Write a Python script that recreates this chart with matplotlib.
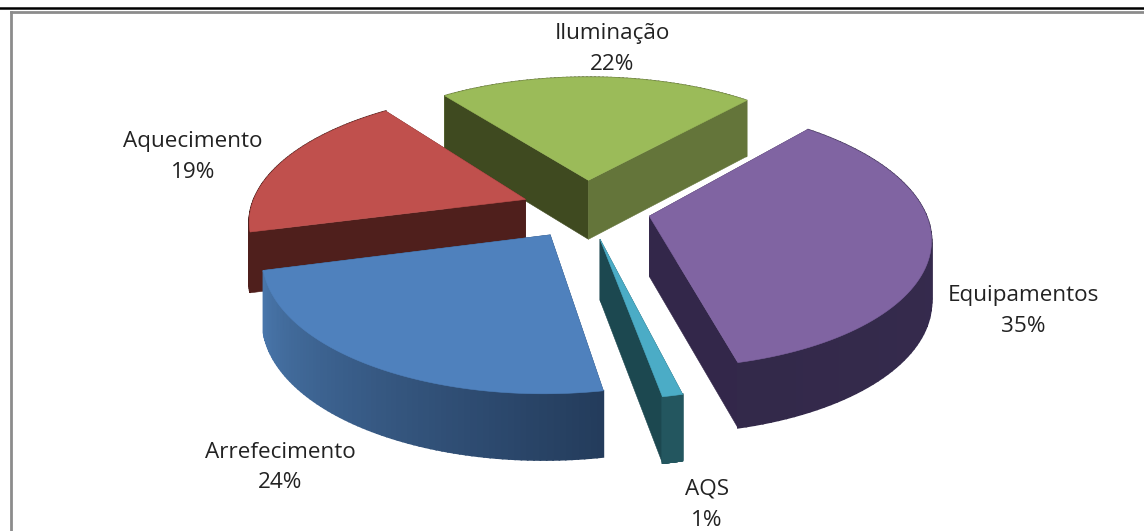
# Grafico circular 3D destacado (consumos por uso final)
import numpy as np
import matplotlib
matplotlib.use('Agg')
import matplotlib.pyplot as plt

# Data, in the order the slices run clockwise
categories = ['Iluminação', 'Equipamentos', 'AQS', 'Arrefecimento', 'Aquecimento']
values = [22, 35, 1, 24, 19]
labels_pct = ['22%', '35%', '1%', '24%', '19%']

# Styles
top_cols = ['#9bbb59', '#8064a2', '#4bacc6', '#4f81bd', '#c0504d']
cut_cols_a = ['#3f4a20', '#33274a', '#1c4850', '#2a4566', '#4f1f1c']
cut_cols_b = ['#64753a', '#33274a', '#1c4850', '#2a4566', '#4f1f1c']
rim_left = ['#64753a', '#33294a', '#23565f', '#4a78ad', '#4f1f1c']
rim_right = ['#64753a', '#382c50', '#23565f', '#243c5c', '#4f1f1c']
label_xy = [(612, 34), (1023, 295), (707, 489), (280, 452), (193, 142)]
draw_order = [0, 4, 1, 3, 2]

# Projection of the pie
cx, cy = 586, 209
R = 275
k = 0.46
p = 0.15
depth = 60
explode = 0.235
start = 127

def project(x, y, z=0):
    w = 1 / (1 + p * y)
    return cx + R * x * w, cy - R * k * y * w + depth * z * np.sqrt(w)

def face(ax, pts, col, lw=0.4):
    xs = [q[0] for q in pts]
    ys = [q[1] for q in pts]
    ax.fill(xs, ys, color=col, lw=lw)

def mix(c1, c2, t):
    a = np.array(matplotlib.colors.to_rgb(c1))
    b = np.array(matplotlib.colors.to_rgb(c2))
    return tuple(a + (b - a) * t)

fig = plt.figure(figsize=(11.44, 5.31), dpi=100)
ax = fig.add_axes([0, 0, 1, 1])
ax.set_xlim(0, 1144)
ax.set_ylim(531, 0)
ax.axis('off')

# Frame
ax.plot([0, 1144], [7.5, 7.5], color='black', lw=1.8)
ax.plot([11, 1144], [12, 12], color='#8c8c8c', lw=2)
ax.plot([11, 11], [12, 531], color='#8c8c8c', lw=2)

# Slice angles, clockwise from the start angle
spans = np.array(values) / sum(values) * 360
ends = start - np.cumsum(spans)
starts = ends + spans

for i in draw_order:
    th = np.radians(np.linspace(starts[i], ends[i], 80))
    mid = np.radians((starts[i] + ends[i]) / 2)
    ox, oy = explode * np.cos(mid), explode * np.sin(mid)
    xs = ox + np.cos(th)
    ys = oy + np.sin(th)

    faces = []
    # the two cut faces
    for j, col in ((0, cut_cols_a[i]), (-1, cut_cols_b[i])):
        quad = [project(ox, oy), project(xs[j], ys[j]),
                project(xs[j], ys[j], 1), project(ox, oy, 1)]
        faces.append(((oy + ys[j]) / 2, quad, col, 0.4))
    # rim
    for j in range(len(th) - 1):
        quad = [project(xs[j], ys[j]), project(xs[j + 1], ys[j + 1]),
                project(xs[j + 1], ys[j + 1], 1), project(xs[j], ys[j], 1)]
        t = 1 - j / (len(th) - 2)
        faces.append((ys[j], quad, mix(rim_left[i], rim_right[i], t), 1.2))
    # back faces first
    for f in sorted(faces, key=lambda q: -q[0]):
        face(ax, f[1], f[2], f[3])

    top = [project(ox, oy)] + [project(a, b) for a, b in zip(xs, ys)]
    face(ax, top, top_cols[i])

# Labels
for name, pct, (lx, ly) in zip(categories, labels_pct, label_xy):
    ax.text(lx, ly, name, ha='center', va='center', fontsize=16.2,
            family='Open Sans', color='#222222')
    ax.text(lx, ly + 31, pct, ha='center', va='center', fontsize=16.2,
            family='Open Sans', color='#222222')

plt.savefig('out.png', dpi=100)
